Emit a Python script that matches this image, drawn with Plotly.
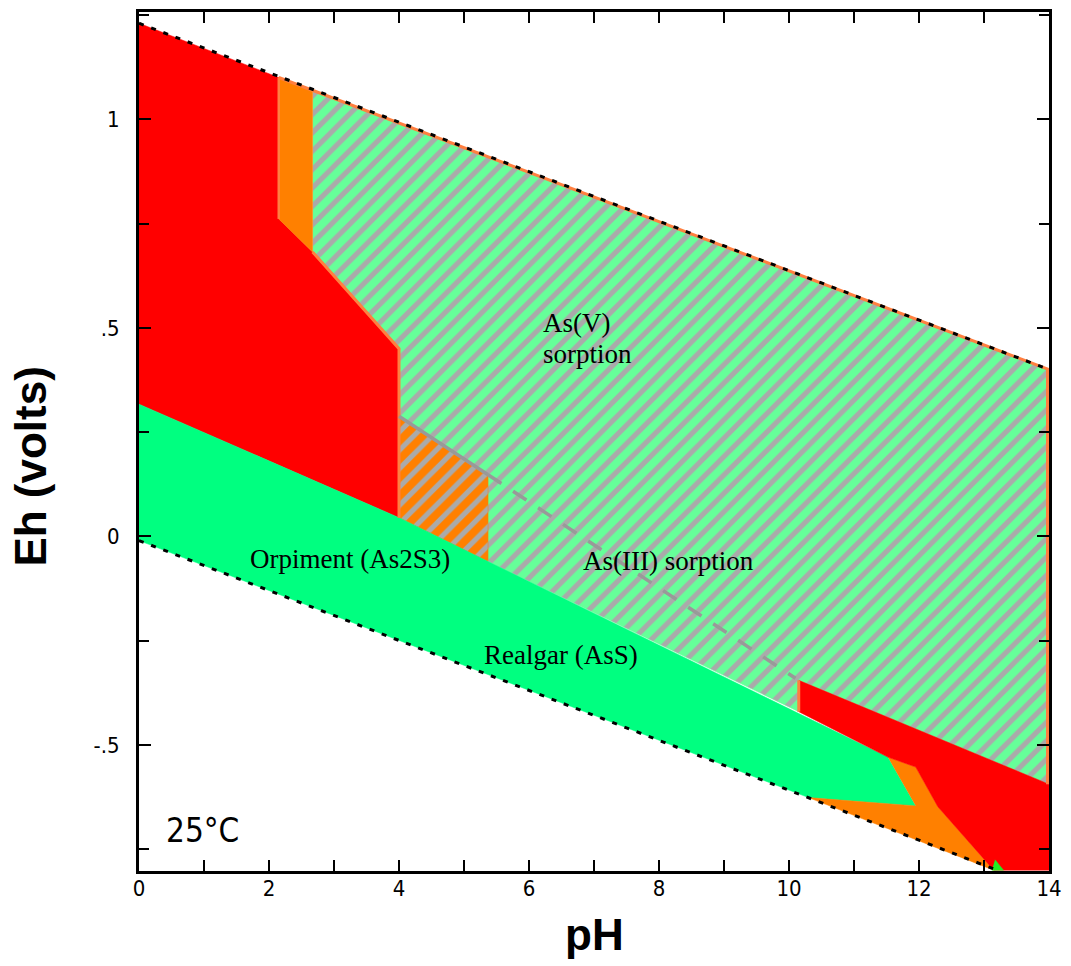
import plotly.graph_objects as go

# ---------------- axes ----------------
X_RANGE = [0, 14]
Y_RANGE = [-0.802, 1.257]
X_TICKS = [0, 2, 4, 6, 8, 10, 12, 14]
X_TICK_TEXT = ["0", "2", "4", "6", "8", "10", "12", "14"]
Y_TICKS = [-0.5, 0, 0.5, 1]
Y_TICK_TEXT = ["-.5", "0", ".5", "1"]

# ---------------- water stability limits ----------------
UPPER_WATER_PH = [0, 14]
UPPER_WATER_EH = [1.23, 0.40]
LOWER_WATER_PH = [0, 13.2]
LOWER_WATER_EH = [-0.01, -0.80]

# ---------------- fields (pH, Eh polygons) ----------------
SORPTION_PH = [2.67, 14.0, 14.0, 10.15, 10.15, 5.3, 4.0, 2.67]
SORPTION_EH = [1.07, 0.40, -0.594, -0.345, -0.42, -0.055, 0.045, 0.682]

RED_ACID_PH = [0, 2.15, 2.15, 2.67, 4.0, 4.0, 0]
RED_ACID_EH = [1.23, 1.10, 0.761, 0.682, 0.45, 0.045, 0.317]

ORANGE_STRIP_PH = [2.15, 2.67, 2.67, 2.15]
ORANGE_STRIP_EH = [1.10, 1.07, 0.682, 0.761]

ORANGE_HATCH_PH = [4.0, 5.37, 5.37, 4.0]
ORANGE_HATCH_EH = [0.288, 0.148, -0.06, 0.045]

SULFIDE_PH = [0, 4.0, 5.3, 10.1, 11.52, 11.95, 10.3, 0]
SULFIDE_EH = [0.317, 0.045, -0.055, -0.42, -0.529, -0.646, -0.626, -0.01]

ORANGE_ALK_PH = [11.52, 11.95, 12.29, 13.15, 10.3, 11.95]
ORANGE_ALK_EH = [-0.529, -0.553, -0.648, -0.80, -0.626, -0.646]

RED_ALK_PH = [10.15, 14.0, 14.0, 13.15, 12.29, 11.95, 11.52, 10.15]
RED_ALK_EH = [-0.345, -0.594, -0.80, -0.80, -0.648, -0.553, -0.529, -0.42]

SMALL_GREEN_PH = [13.12, 13.3, 13.17]
SMALL_GREEN_EH = [-0.80, -0.80, -0.775]

# ---------------- boundaries ----------------
AS_BOUNDARY_SOLID_PH = [4.0, 5.37]
AS_BOUNDARY_SOLID_EH = [0.288, 0.148]
AS_BOUNDARY_DASH_PH = [5.37, 10.1]
AS_BOUNDARY_DASH_EH = [0.148, -0.34]

ORANGE_EDGE_TOP_PH = [2.15, 14.0]
ORANGE_EDGE_TOP_EH = [1.10, 0.40]
ORANGE_EDGE_A_PH = [2.15, 2.15]
ORANGE_EDGE_A_EH = [1.10, 0.761]
ORANGE_EDGE_B_PH = [2.67, 4.0, 4.0]
ORANGE_EDGE_B_EH = [0.682, 0.45, 0.045]
ORANGE_EDGE_C_PH = [14.0, 14.0]
ORANGE_EDGE_C_EH = [0.40, -0.594]
ORANGE_EDGE_D_PH = [10.15, 10.15]
ORANGE_EDGE_D_EH = [-0.345, -0.42]

# ---------------- labels ----------------
LABELS = [
    ("As(V)", 6.18, 0.512, "left"),
    ("sorption", 6.18, 0.438, "left"),
    ("Orpiment (As2S3)", 3.24, -0.054, "center"),
    ("As(III) sorption", 8.14, -0.059, "center"),
    ("Realgar (AsS)", 6.49, -0.285, "center"),
]

RED = "#FF0000"
ORANGE = "#FF8000"
GREEN = "#00FF80"
HATCH_BG = "#66FF99"
HATCH_FG = "#AAAAAA"
EDGE_ORANGE = "#FF7F40"

fig = go.Figure()


def solid(px, ey, color):
    fig.add_trace(go.Scatter(x=px, y=ey, mode="lines", fill="toself",
                             fillcolor=color, line=dict(color=color, width=0.5),
                             hoverinfo="skip", showlegend=False))


def hatched(px, ey, bg):
    fig.add_trace(go.Scatter(x=px, y=ey, mode="lines", fill="toself",
                             fillcolor=bg, line=dict(color=bg, width=0.5),
                             fillpattern=dict(shape="/", bgcolor=bg, fgcolor=HATCH_FG,
                                              size=13, solidity=0.4, fillmode="replace"),
                             hoverinfo="skip", showlegend=False))


def line(px, ey, color, width, dash="solid"):
    fig.add_trace(go.Scatter(x=px, y=ey, mode="lines",
                             line=dict(color=color, width=width, dash=dash),
                             hoverinfo="skip", showlegend=False))


hatched(SORPTION_PH, SORPTION_EH, HATCH_BG)
solid(RED_ACID_PH, RED_ACID_EH, RED)
solid(ORANGE_STRIP_PH, ORANGE_STRIP_EH, ORANGE)
hatched(ORANGE_HATCH_PH, ORANGE_HATCH_EH, ORANGE)
solid(SULFIDE_PH, SULFIDE_EH, GREEN)
solid(ORANGE_ALK_PH, ORANGE_ALK_EH, ORANGE)
solid(RED_ALK_PH, RED_ALK_EH, RED)
solid(SMALL_GREEN_PH, SMALL_GREEN_EH, "#22EE22")

line(ORANGE_EDGE_TOP_PH, ORANGE_EDGE_TOP_EH, EDGE_ORANGE, 3)
line(ORANGE_EDGE_A_PH, ORANGE_EDGE_A_EH, EDGE_ORANGE, 2.5)
line(ORANGE_EDGE_B_PH, ORANGE_EDGE_B_EH, EDGE_ORANGE, 3)
line(ORANGE_EDGE_C_PH, ORANGE_EDGE_C_EH, EDGE_ORANGE, 6)
line(ORANGE_EDGE_D_PH, ORANGE_EDGE_D_EH, EDGE_ORANGE, 3)

line(AS_BOUNDARY_SOLID_PH, AS_BOUNDARY_SOLID_EH, "#999999", 3.5)
line(AS_BOUNDARY_DASH_PH, AS_BOUNDARY_DASH_EH, "#999999", 3.5, dash="16px,14px")

line(UPPER_WATER_PH, UPPER_WATER_EH, "black", 3, dash="5px,8px")
line(LOWER_WATER_PH, LOWER_WATER_EH, "black", 3, dash="5px,8px")

annotations = []
for text, px, ey, align in LABELS:
    annotations.append(dict(x=px, y=ey, xref="x", yref="y", text=text, showarrow=False,
                            xanchor=align, yanchor="middle",
                            font=dict(family="Liberation Serif, Times New Roman, serif",
                                      size=27, color="black")))
annotations.append(dict(x=0.97, y=-0.706, xref="x", yref="y", text="25°C", showarrow=False,
                        xanchor="center", yanchor="middle",
                        font=dict(family="Liberation Sans Narrow, DejaVu Sans Condensed, Liberation Sans, sans-serif",
                                  size=33, color="black")))
annotations.append(dict(x=0.5005, y=-0.0742, xref="paper", yref="paper", text="<b>pH</b>",
                        showarrow=False, xanchor="center", yanchor="middle",
                        font=dict(family="Liberation Sans, Arial, sans-serif", size=44, color="black")))
annotations.append(dict(x=-0.1196, y=0.471, xref="paper", yref="paper", text="<b>Eh (volts)</b>",
                        showarrow=False, xanchor="center", yanchor="middle", textangle=-90,
                        font=dict(family="Liberation Sans, Arial, sans-serif", size=44, color="black")))

tick_font = dict(family="Liberation Sans Narrow, DejaVu Sans Condensed, Liberation Sans, sans-serif",
                 size=22, color="black")

fig.update_layout(
    width=1071, height=966,
    margin=dict(l=139, r=21, t=9, b=95),
    paper_bgcolor="white", plot_bgcolor="white",
    showlegend=False,
    annotations=annotations,
    xaxis=dict(range=X_RANGE, tickvals=X_TICKS, ticktext=X_TICK_TEXT,
               ticks="inside", ticklen=11, tickwidth=2, tickcolor="black",
               minor=dict(dtick=1, ticks="inside", ticklen=11, tickwidth=2, tickcolor="black"),
               showline=True, linecolor="black", linewidth=3, mirror="allticks",
               showgrid=False, zeroline=False, tickfont=tick_font, ticklabelstandoff=-4),
    yaxis=dict(range=Y_RANGE, tickvals=Y_TICKS, ticktext=Y_TICK_TEXT,
               ticks="inside", ticklen=12, tickwidth=2, tickcolor="black",
               minor=dict(dtick=0.25, tick0=0, ticks="inside", ticklen=10, tickwidth=2, tickcolor="black"),
               showline=True, linecolor="black", linewidth=3, mirror="allticks",
               showgrid=False, zeroline=False, tickfont=tick_font, ticklabelstandoff=12),
)

fig.write_html("out.html")
